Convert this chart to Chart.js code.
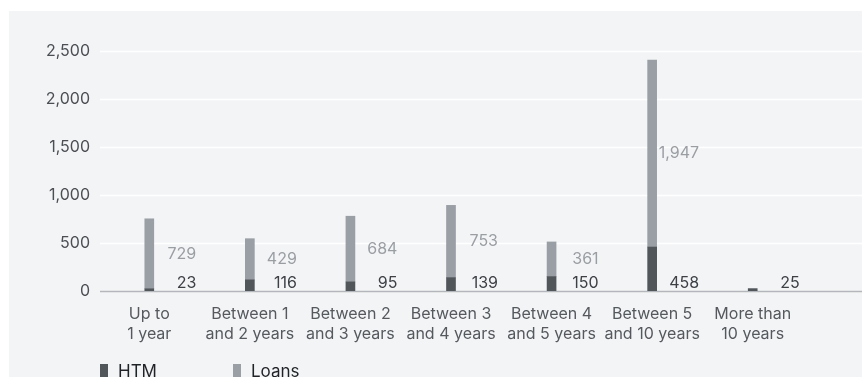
<!DOCTYPE html>
<html>
<head>
<meta charset="utf-8">
<script src="https://cdn.jsdelivr.net/npm/chart.js@4.4.1/dist/chart.umd.min.js"></script>
<style>
  html, body { margin: 0; padding: 0; background: #fff; }
  #wrap { position: relative; width: 862px; height: 377px; overflow: hidden; }
  #panel { position: absolute; left: 9px; top: 11px; right: 0; bottom: 0; background: #f3f4f6; }
  #chart { position: absolute; left: 0; top: 0; }
  #legend { position: absolute; left: 100px; top: 361px; display: flex; font-family: Inter, sans-serif; font-size: 17px; line-height: 20px; color: #1f2226; }
  .item { width: 133px; display: flex; align-items: flex-start; }
  .sw { width: 8px; height: 16px; margin-top: 3px; margin-right: 10px; }
</style>
</head>
<body>
<div id="wrap">
  <div id="panel"></div>
  <canvas id="chart" width="862" height="377"></canvas>
  <div id="legend"></div>
</div>
<script>
// Daten
var categories = [
  ['Up to', '1 year'],
  ['Between 1', 'and 2 years'],
  ['Between 2', 'and 3 years'],
  ['Between 3', 'and 4 years'],
  ['Between 4', 'and 5 years'],
  ['Between 5', 'and 10 years'],
  ['More than', '10 years']
];
var htmValues = [23, 116, 95, 139, 150, 458, 25];
var loansValues = [729, 429, 684, 753, 361, 1947, null];
var yTicks = [0, 500, 1000, 1500, 2000, 2500];
var seriesNames = ['HTM', 'Loans'];
var seriesColors = ['#51565b', '#9a9fa5'];

var fmt = (v) => v.toLocaleString('en-US');

// Gitterlinien bis zum rechten Rand
var gridPlugin = {
  id: 'gridLines',
  beforeDatasetsDraw(chart) {
    var ctx = chart.ctx;
    var y = chart.scales.y;
    ctx.save();
    yTicks.forEach((t) => {
      var py = Math.round(y.getPixelForValue(t)) + 0.5;
      ctx.strokeStyle = t === 0 ? '#b3b6ba' : '#ffffff';
      ctx.lineWidth = 1.5;
      ctx.beginPath();
      ctx.moveTo(chart.chartArea.left + 1, py);
      ctx.lineTo(chart.width, py);
      ctx.stroke();
    });
    ctx.restore();
  }
};

// Wertbeschriftungen rechts neben den Balken
var labelPlugin = {
  id: 'valueLabels',
  afterDatasetsDraw(chart) {
    var ctx = chart.ctx;
    var htmMeta = chart.getDatasetMeta(0);
    var loansMeta = chart.getDatasetMeta(1);
    var y0 = chart.scales.y.getPixelForValue(0);
    ctx.save();
    ctx.font = '16px Inter, sans-serif';
    ctx.textAlign = 'right';
    htmMeta.data.forEach((bar, i) => {
      ctx.fillStyle = '#3d4146';
      ctx.textBaseline = 'alphabetic';
      ctx.fillText(fmt(htmValues[i]), bar.x + 47, y0 - 3);
      if (loansValues[i] != null) {
        var lb = loansMeta.data[i];
        ctx.fillStyle = '#9a9ea3';
        ctx.textBaseline = 'middle';
        ctx.fillText(fmt(loansValues[i]), bar.x + 47, (lb.y + lb.base) / 2);
      }
    });
    ctx.restore();
  }
};

var data = {
  labels: categories,
  datasets: [
    { label: seriesNames[0], data: htmValues, backgroundColor: seriesColors[0], barThickness: 9 },
    { label: seriesNames[1], data: loansValues, backgroundColor: seriesColors[1], barThickness: 9 }
  ]
};

var config = {
  type: 'bar',
  data: data,
  options: {
    responsive: false,
    animation: false,
    layout: { padding: { top: 51, right: 59, left: 0, bottom: 0 } },
    scales: {
      x: {
        stacked: true,
        grid: { display: false },
        border: { display: false },
        ticks: {
          color: '#55595e',
          font: { family: 'Inter, sans-serif', size: 16, lineHeight: 1.25 },
          padding: 5,
          maxRotation: 0,
          autoSkip: false
        },
        afterFit: (s) => { s.height = 86; }
      },
      y: {
        stacked: true,
        min: 0,
        max: 2500,
        grid: { display: false, drawTicks: false },
        border: { display: false },
        ticks: {
          stepSize: 500,
          color: '#4b4f54',
          padding: 9,
          font: { family: 'Inter, sans-serif', size: 16 },
          callback: (v) => fmt(v)
        },
        afterFit: (s) => { s.width = 99; }
      }
    },
    plugins: {
      legend: { display: false },
      tooltip: { enabled: false }
    }
  },
  plugins: [gridPlugin, labelPlugin]
};

var chart = new Chart(document.getElementById('chart').getContext('2d'), config);

// Legende
var legend = document.getElementById('legend');
seriesNames.forEach((name, i) => {
  var item = document.createElement('div');
  item.className = 'item';
  item.innerHTML = '<span class="sw" style="background:' + seriesColors[i] + '"></span><span>' + name + '</span>';
  legend.appendChild(item);
});
</script>
</body>
</html>
